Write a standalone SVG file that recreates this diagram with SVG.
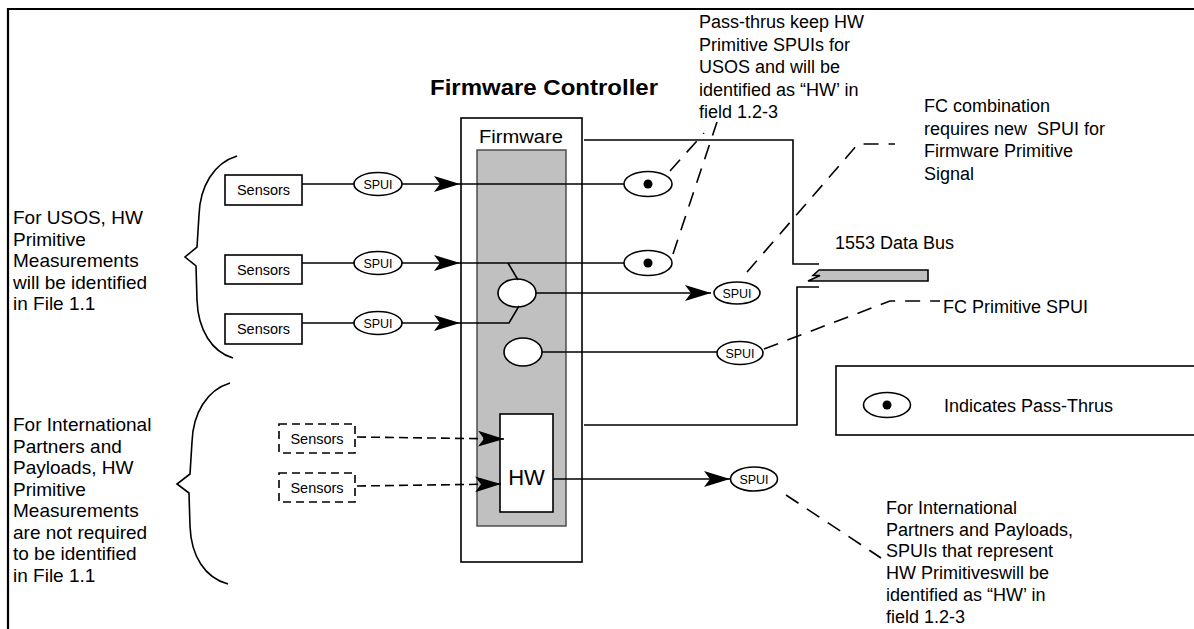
<svg xmlns="http://www.w3.org/2000/svg" width="1194" height="629" viewBox="0 0 1194 629">
<defs>
<style>
text{font-family:"Liberation Sans",Arial,Helvetica,sans-serif;fill:#000}
.t18{font-size:18px}
.t19{font-size:19px}
.ln{stroke:#000;stroke-width:1.6;fill:none}
.dash{stroke:#000;stroke-width:1.6;fill:none;stroke-dasharray:15 10}
.sdash{stroke:#000;stroke-width:1.6;fill:none;stroke-dasharray:9 5}
.box{fill:#fff;stroke:#000;stroke-width:1.6}
.dbox{fill:#fff;stroke:#000;stroke-width:1.6;stroke-dasharray:8 5}
.ell{fill:#fff;stroke:#000;stroke-width:1.6}
.spui{font-size:12.5px;text-anchor:middle}
.sens{font-size:14.5px;text-anchor:middle}
</style>
<marker id="ah" markerUnits="userSpaceOnUse" markerWidth="28" markerHeight="18" refX="26" refY="8" orient="auto" viewBox="0 0 28 16">
<path d="M0,0 L26,8 L0,16 L6,8 Z" fill="#000"/>
</marker>
</defs>
<rect width="1194" height="629" fill="#fff"/>
<path d="M8,629 V9 H1194" fill="none" stroke="#000" stroke-width="2.2"/>

<g id="title"><text x="430" y="95" font-size="22" font-weight="bold" textLength="228" lengthAdjust="spacingAndGlyphs">Firmware Controller</text></g>

<g id="firmware-controller">
<rect x="461" y="118" width="121" height="444" class="box"/>
<text x="479" y="143" font-size="19" textLength="84" lengthAdjust="spacingAndGlyphs">Firmware</text>
<rect x="477" y="150" width="89" height="376" fill="#c0c0c0" stroke="#444" stroke-width="1.4"/>
</g>

<g id="hw"><rect x="500" y="414" width="53" height="98" class="box"/><text x="526.5" y="485" font-size="22" text-anchor="middle">HW</text></g>

<g id="sensors1"><rect x="225" y="175" width="77" height="30" class="box"/><text x="263.5" y="195" class="sens">Sensors</text></g>
<g id="sensors2"><rect x="225" y="255" width="77" height="29" class="box"/><text x="263.5" y="274.5" class="sens">Sensors</text></g>
<g id="sensors3"><rect x="225" y="314" width="77" height="30" class="box"/><text x="263.5" y="334" class="sens">Sensors</text></g>
<g id="sensors4"><rect x="279" y="424" width="76" height="29" class="dbox"/><text x="317" y="443.5" class="sens">Sensors</text></g>
<g id="sensors5"><rect x="279" y="473" width="76" height="29" class="dbox"/><text x="317" y="492.5" class="sens">Sensors</text></g>

<g id="spui1"><ellipse cx="378" cy="184" rx="24" ry="11.5" class="ell"/><text x="378" y="188.5" class="spui">SPUI</text></g>
<g id="spui2"><ellipse cx="378" cy="263" rx="24" ry="11.5" class="ell"/><text x="378" y="267.5" class="spui">SPUI</text></g>
<g id="spui3"><ellipse cx="378" cy="323" rx="24" ry="11.5" class="ell"/><text x="378" y="327.5" class="spui">SPUI</text></g>

<g id="passthru1"><ellipse cx="648" cy="184" rx="24" ry="12.5" class="ell"/><circle cx="648" cy="184" r="4.5"/></g>
<g id="passthru2"><ellipse cx="648" cy="263" rx="24" ry="12.5" class="ell"/><circle cx="648" cy="263" r="4.5"/></g>

<g id="combiner1"><ellipse cx="517" cy="293" rx="19" ry="14" class="ell"/></g>
<g id="combiner2"><ellipse cx="523" cy="352" rx="19" ry="14" class="ell"/></g>

<g id="spui-fc1"><ellipse cx="737" cy="293" rx="23" ry="11" class="ell"/><text x="737" y="297.5" class="spui">SPUI</text></g>
<g id="spui-fc2"><ellipse cx="740" cy="353" rx="23" ry="11.5" class="ell"/><text x="740" y="357.5" class="spui">SPUI</text></g>
<g id="spui-hw"><ellipse cx="754" cy="479" rx="23.5" ry="12" class="ell"/><text x="754" y="483.5" class="spui">SPUI</text></g>

<g id="bus">
<path d="M928,270 H819 L813,275.5 H820 L808,281 H928 Z" fill="#c0c0c0" stroke="#000" stroke-width="1.6"/>
<text x="835" y="249" class="t18">1553 Data Bus</text>
</g>

<g id="legend">
<rect x="836" y="366" width="400" height="69" fill="#fff" stroke="#000" stroke-width="1.6"/>
<ellipse cx="887" cy="405" rx="23.5" ry="12.5" class="ell"/><circle cx="887" cy="405" r="4.5"/>
<text x="944" y="411.5" class="t18">Indicates Pass-Thrus</text>
</g>

<g id="brackets">
<path d="M237,156 C214,163 200,186 199,215 L197,247 L185,257 L196,266 L197,300 C198,330 212,352 233,358" class="ln"/>
<path d="M230,383 C207,390 193,413 192,442 L190,474 L177,484 L189,493 L190,526 C191,556 205,578 228,584" class="ln"/>
</g>

<g id="notes">
<text class="t19" x="13" y="224"><tspan x="13">For USOS, HW</tspan><tspan x="13" dy="21.5">Primitive</tspan><tspan x="13" dy="21.5">Measurements</tspan><tspan x="13" dy="21.5">will be identified</tspan><tspan x="13" dy="21.5">in File 1.1</tspan></text>
<text class="t19" x="13" y="431"><tspan x="13">For International</tspan><tspan x="13" dy="21.5">Partners and</tspan><tspan x="13" dy="21.5">Payloads, HW</tspan><tspan x="13" dy="21.5">Primitive</tspan><tspan x="13" dy="21.5">Measurements</tspan><tspan x="13" dy="21.5">are not required</tspan><tspan x="13" dy="21.5">to be identified</tspan><tspan x="13" dy="21.5">in File 1.1</tspan></text>
<text class="t18" x="699" y="28"><tspan x="699">Pass-thrus keep HW</tspan><tspan x="699" dy="22.5">Primitive SPUIs for</tspan><tspan x="699" dy="22.5">USOS and will be</tspan><tspan x="699" dy="22.5">identified as “HW’ in</tspan><tspan x="699" dy="22.5">field 1.2-3</tspan></text>
<text class="t18" x="924" y="112" style="white-space:pre"><tspan x="924">FC combination</tspan><tspan x="924" dy="22.7">requires new  SPUI for</tspan><tspan x="924" dy="22.7">Firmware Primitive</tspan><tspan x="924" dy="22.7">Signal</tspan></text>
<text class="t18" x="943" y="313">FC Primitive SPUI</text>
<text class="t18" x="886" y="514"><tspan x="886">For International</tspan><tspan x="886" dy="21.7">Partners and Payloads,</tspan><tspan x="886" dy="21.7">SPUIs that represent</tspan><tspan x="886" dy="21.7">HW Primitiveswill be</tspan><tspan x="886" dy="21.7">identified as “HW’ in</tspan><tspan x="886" dy="21.7">field 1.2-3</tspan></text>
</g>

<g id="connectors">
<line x1="302" y1="184" x2="354" y2="184" class="ln"/>
<line x1="402" y1="184" x2="460" y2="184" class="ln" marker-end="url(#ah)"/>
<line x1="460" y1="184" x2="624" y2="184" class="ln"/>
<line x1="302" y1="263" x2="354" y2="263" class="ln"/>
<line x1="402" y1="263" x2="460" y2="263" class="ln" marker-end="url(#ah)"/>
<line x1="460" y1="263" x2="624" y2="263" class="ln"/>
<line x1="302" y1="323" x2="354" y2="323" class="ln"/>
<line x1="402" y1="323" x2="460" y2="323" class="ln" marker-end="url(#ah)"/>
<polyline points="460,323 509,323 519,306" class="ln"/>
<line x1="508" y1="263" x2="518" y2="280" class="ln"/>
<line x1="536" y1="293" x2="711" y2="293" class="ln" marker-end="url(#ah)"/>
<line x1="542" y1="352" x2="717" y2="352" class="ln"/>
<line x1="357" y1="437" x2="504" y2="439" class="sdash" marker-end="url(#ah)"/>
<line x1="357" y1="486" x2="501" y2="484" class="sdash" marker-end="url(#ah)"/>
<line x1="553" y1="479" x2="730" y2="479" class="ln" marker-end="url(#ah)"/>
<polyline points="584,140 793,140 793,264 819,264" class="ln"/>
<polyline points="819,287 797,287 797,425 584,425" class="ln"/>
<line x1="670" y1="171" x2="704" y2="133" class="dash"/>
<line x1="673" y1="254" x2="717" y2="122" class="dash"/>
<polyline points="747,272 858,144 895,144" class="dash"/>
<polyline points="764,349 890,301 940,301" class="dash"/>
<line x1="786" y1="495" x2="881" y2="558" class="dash"/>
</g>
</svg>
